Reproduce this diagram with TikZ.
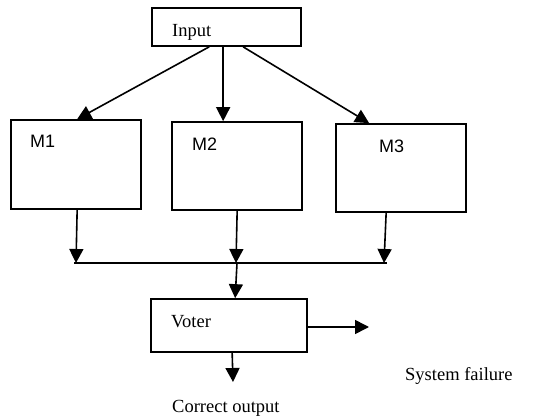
\documentclass[tikz,border=0pt]{standalone}
\usepackage{fontspec}
\setmainfont{Liberation Serif}
\newfontfamily\labelsans{Liberation Sans}
\usetikzlibrary{arrows.meta}

\begin{document}
\begin{tikzpicture}[x=1pt,y=-1pt,
  block/.style={draw, line width=1.7pt, inner sep=0pt, fill=white},
  arr/.style={line width=1.6pt, -{Triangle[length=14pt,width=14pt]}},
  wire/.style={line width=1.6pt},
  serif/.style={anchor=base west, inner sep=0pt, font=\fontsize{18.5}{21}\selectfont},
  sans/.style={anchor=base west, inner sep=0pt, font=\labelsans\fontsize{18}{21}\selectfont}]
\useasboundingbox (0,0) rectangle (538,417);

% blocks
\node[block, minimum width=149pt, minimum height=38pt] (inp) at (226.5,27) {};
\node[block, minimum width=130pt, minimum height=89pt] (m1) at (76,164.5) {};
\node[block, minimum width=130pt, minimum height=88pt] (m2) at (237,166) {};
\node[block, minimum width=130pt, minimum height=88pt] (m3) at (401,168) {};
\node[block, minimum width=156pt, minimum height=53pt] (vot) at (229,325.5) {};

% labels
\node[serif] (tinp) at (172,36.5) {Input};
\node[sans] (tm1) at (30,148) {M1};
\node[sans] (tm2) at (192,150) {M2};
\node[sans] (tm3) at (379,153) {M3};
\node[serif] (tvot) at (171,327) {Voter};
\node[serif] (tfail) at (405,380) {System failure};
\node[serif] (tout) at (172,412) {Correct output};

% bus points and free ends
\coordinate (bl) at (74,263);
\coordinate (br) at (387,263);
\coordinate (b1) at (76,263);
\coordinate (b2) at (236,263);
\coordinate (b3) at (384,263);
\coordinate (bv) at (237,263);
\coordinate (fail) at (369,327);
\coordinate (out) at (233,382);

% input fan-out
\draw[arr] ([xshift=58pt]inp.south west) -- ([xshift=67pt]m1.north west);
\draw[arr] ([xshift=72pt]inp.south west) -- ([xshift=52pt]m2.north west);
\draw[arr] ([xshift=92pt]inp.south west) -- ([xshift=34pt]m3.north west);

% module outputs to the bus
\draw[arr] ([xshift=67pt]m1.south west) -- (b1);
\draw[arr] ([xshift=66pt]m2.south west) -- (b2);
\draw[arr] ([xshift=51pt]m3.south west) -- (b3);
\draw[wire] (bl) -- (br);

% bus to voter
\draw[arr] (bv) -- ([xshift=85pt]vot.north west);

% voter outputs
\draw[arr] (vot.east |- fail) -- (fail);
\draw[arr] ([xshift=82pt]vot.south west) -- (out);
\end{tikzpicture}
\end{document}
